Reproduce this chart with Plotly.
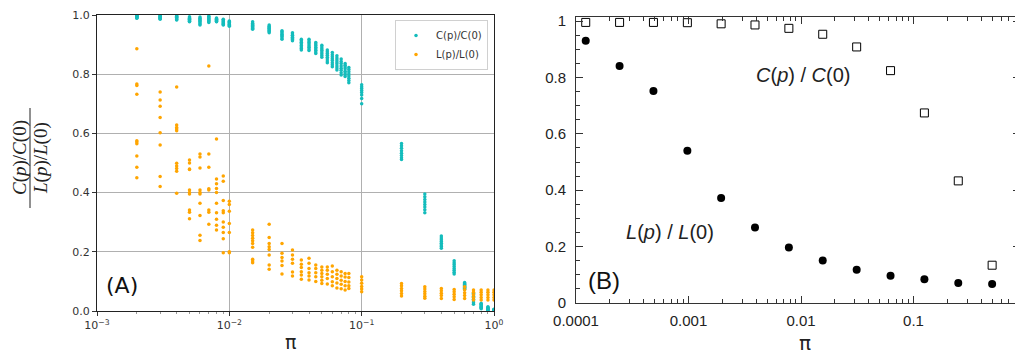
import math
import plotly.graph_objects as go

# ---------------- Panel (A) data ----------------
p_grid = [0.002, 0.003, 0.004, 0.005, 0.006, 0.007, 0.008, 0.009, 0.01,
          0.015, 0.02, 0.025, 0.03, 0.035, 0.04, 0.045, 0.05, 0.055, 0.06,
          0.065, 0.07, 0.075, 0.08, 0.1, 0.2, 0.3, 0.4, 0.5, 0.6, 0.7, 0.8,
          0.9, 1.0]

C_ratio = [
    [1.0, 0.998, 0.996, 0.995, 0.993, 0.992, 0.99, 0.989],
    [1.0, 0.997, 0.995, 0.993, 0.991, 0.99, 0.988, 0.986],
    [0.999, 0.996, 0.994, 0.992, 0.99, 0.987, 0.985, 0.983],
    [0.994, 0.991, 0.989, 0.986, 0.984, 0.981, 0.979, 0.977],
    [0.993, 0.989, 0.985, 0.981, 0.978, 0.974, 0.97, 0.966],
    [0.996, 0.993, 0.99, 0.987, 0.984, 0.981, 0.978, 0.975],
    [0.99, 0.988, 0.986, 0.984, 0.982, 0.98, 0.978, 0.977],
    [0.986, 0.983, 0.98, 0.977, 0.974, 0.971, 0.968, 0.966],
    [0.98, 0.978, 0.975, 0.973, 0.97, 0.968, 0.965, 0.962],
    [0.977, 0.972, 0.968, 0.965, 0.962, 0.958, 0.955, 0.952],
    [0.966, 0.962, 0.958, 0.955, 0.951, 0.948, 0.944, 0.94],
    [0.947, 0.943, 0.939, 0.935, 0.931, 0.927, 0.922, 0.918],
    [0.94, 0.936, 0.932, 0.929, 0.925, 0.921, 0.917, 0.913],
    [0.918, 0.913, 0.908, 0.903, 0.897, 0.892, 0.887, 0.882],
    [0.918, 0.912, 0.907, 0.902, 0.896, 0.891, 0.885, 0.88],
    [0.907, 0.902, 0.897, 0.891, 0.886, 0.881, 0.875, 0.87],
    [0.898, 0.892, 0.886, 0.881, 0.875, 0.869, 0.863, 0.857],
    [0.882, 0.876, 0.87, 0.864, 0.857, 0.851, 0.845, 0.839],
    [0.873, 0.866, 0.859, 0.852, 0.846, 0.839, 0.832, 0.825],
    [0.862, 0.855, 0.848, 0.841, 0.835, 0.828, 0.821, 0.814],
    [0.851, 0.843, 0.836, 0.828, 0.82, 0.813, 0.805, 0.797],
    [0.836, 0.83, 0.824, 0.818, 0.81, 0.804, 0.798, 0.792],
    [0.823, 0.816, 0.808, 0.801, 0.794, 0.786, 0.779, 0.771],
    [0.764, 0.758, 0.752, 0.745, 0.738, 0.73, 0.718, 0.70],
    [0.566, 0.558, 0.55, 0.541, 0.533, 0.525, 0.518, 0.512],
    [0.395, 0.386, 0.377, 0.368, 0.36, 0.351, 0.342, 0.332],
    [0.253, 0.247, 0.241, 0.235, 0.229, 0.223, 0.218, 0.212],
    [0.17, 0.163, 0.157, 0.15, 0.144, 0.138, 0.131, 0.125],
    [0.096, 0.093, 0.09, 0.087, 0.083, 0.08, 0.077, 0.073],
    [0.06, 0.055, 0.05, 0.045, 0.04, 0.034, 0.028, 0.023],
    [0.026, 0.023, 0.02, 0.017, 0.014, 0.012, 0.01, 0.008],
    [0.014, 0.012, 0.01, 0.008, 0.006, 0.005, 0.004, 0.003],
    [0.006, 0.005, 0.004, 0.003, 0.002, 0.001, 0.001, 0.0],
]

L_ratio = [
    [0.886, 0.767, 0.762, 0.732, 0.575, 0.571, 0.565, 0.524, 0.486, 0.45],
    [0.74, 0.713, 0.692, 0.654, 0.602, 0.561, 0.454, 0.421],
    [0.757, 0.628, 0.62, 0.615, 0.609, 0.499, 0.49, 0.481, 0.472, 0.398],
    [0.51, 0.5, 0.48, 0.478, 0.409, 0.4, 0.395, 0.341, 0.334, 0.312],
    [0.53, 0.52, 0.483, 0.409, 0.4, 0.395, 0.364, 0.323, 0.256, 0.238],
    [0.828, 0.53, 0.486, 0.413, 0.409, 0.341, 0.334, 0.293],
    [0.581, 0.446, 0.43, 0.414, 0.40, 0.364, 0.332, 0.31, 0.29, 0.274],
    [0.456, 0.438, 0.373, 0.339, 0.332, 0.301, 0.283, 0.265, 0.244, 0.197],
    [0.371, 0.36, 0.337, 0.296, 0.265, 0.2, 0.197],
    [0.274, 0.264, 0.255, 0.246, 0.237, 0.228, 0.215, 0.175, 0.169, 0.163],
    [0.293, 0.248, 0.228, 0.217, 0.208, 0.189, 0.155, 0.141],
    [0.228, 0.195, 0.181, 0.169, 0.154, 0.125],
    [0.206, 0.189, 0.175, 0.161, 0.132, 0.118],
    [0.172, 0.158, 0.147, 0.133, 0.122, 0.107],
    [0.178, 0.161, 0.144, 0.129, 0.118, 0.105],
    [0.155, 0.144, 0.129, 0.116, 0.1],
    [0.149, 0.138, 0.127, 0.116, 0.104, 0.093],
    [0.149, 0.138, 0.124, 0.11, 0.091],
    [0.152, 0.133, 0.116, 0.099, 0.085],
    [0.138, 0.124, 0.11, 0.095, 0.078],
    [0.133, 0.118, 0.104, 0.09, 0.075],
    [0.127, 0.115, 0.1, 0.085, 0.071],
    [0.127, 0.113, 0.098, 0.085, 0.076],
    [0.116, 0.105, 0.094, 0.083, 0.074, 0.065],
    [0.093, 0.085, 0.076, 0.068, 0.059, 0.051],
    [0.082, 0.074, 0.066, 0.058, 0.05, 0.043],
    [0.076, 0.068, 0.06, 0.052, 0.042],
    [0.073, 0.065, 0.057, 0.048, 0.039],
    [0.082, 0.072, 0.062, 0.052, 0.042],
    [0.071, 0.063, 0.055, 0.046, 0.037],
    [0.071, 0.063, 0.055, 0.046, 0.037],
    [0.071, 0.063, 0.055, 0.046, 0.037],
    [0.071, 0.063, 0.055, 0.046, 0.037],
]

A_xticks = [0.001, 0.01, 0.1, 1.0]
A_xticktext = ["10<sup>\u22123</sup>", "10<sup>\u22122</sup>", "10<sup>\u22121</sup>", "10<sup>0</sup>"]
A_yticks = [0.0, 0.2, 0.4, 0.6, 0.8, 1.0]
A_yticktext = ["0.0", "0.2", "0.4", "0.6", "0.8", "1.0"]

# ---------------- Panel (B) data ----------------
p_B = [0.000122, 0.000244, 0.000488, 0.000977, 0.00195, 0.0039, 0.0078,
       0.0156, 0.03125, 0.0625, 0.125, 0.25, 0.5, 1.0]
L_B = [0.93, 0.84, 0.752, 0.54, 0.372, 0.268, 0.197, 0.151, 0.118, 0.097,
       0.084, 0.071, 0.067, 0.064]
C_B = [0.995, 0.995, 0.995, 0.994, 0.99, 0.986, 0.974, 0.953, 0.908, 0.824,
       0.674, 0.433, 0.134, None]

B_xticks = [0.0001, 0.001, 0.01, 0.1]
B_xticktext = ["0.0001", "0.001", "0.01", "0.1"]
B_yticks = [0, 0.2, 0.4, 0.6, 0.8, 1.0]
B_yticktext = ["0", "0.2", "0.4", "0.6", "0.8", "1"]

# ---------------- build ----------------
# the page body has an 8px margin, so the figure is drawn 8px in from the
# top-left corner; positions below are given in screenshot pixels.
OFF = 8
W, H = 1023 - OFF, 354 - OFF
def px(x):
    return (x - OFF) / W
def py(y):
    return 1 - (y - OFF) / H

xs_c = [p for p, vals in zip(p_grid, C_ratio) for _ in vals]
ys_c = [v for vals in C_ratio for v in vals]
xs_l = [p for p, vals in zip(p_grid, L_ratio) for _ in vals]
ys_l = [v for vals in L_ratio for v in vals]

CYAN = "#14bcbc"
ORANGE = "#ffa500"

fig = go.Figure()
fig.add_trace(go.Scatter(x=xs_c, y=ys_c, mode="markers", name="C(p)/C(0)",
                         marker=dict(color=CYAN, size=3.5), xaxis="x", yaxis="y"))
fig.add_trace(go.Scatter(x=xs_l, y=ys_l, mode="markers", name="L(p)/L(0)",
                         marker=dict(color=ORANGE, size=3.5), xaxis="x", yaxis="y"))

fig.add_trace(go.Scatter(x=p_B, y=C_B, mode="markers", showlegend=False,
                         marker=dict(symbol="square-open", color="black", size=8,
                                     line=dict(width=1, color="black")),
                         xaxis="x2", yaxis="y2", cliponaxis=False))
fig.add_trace(go.Scatter(x=p_B, y=L_B, mode="markers", showlegend=False,
                         marker=dict(symbol="circle", color="black", size=8),
                         xaxis="x2", yaxis="y2", cliponaxis=False))

A_minor = [m * 10 ** e for e in (-3, -2, -1) for m in range(2, 10)]
B_minor = [m * 10 ** e for e in (-4, -3, -2, -1) for m in range(2, 10)]
B_yminor = [0.05, 0.1, 0.15, 0.25, 0.3, 0.35, 0.45, 0.5, 0.55, 0.65, 0.7, 0.75, 0.85, 0.9, 0.95]

fontA = dict(family="DejaVu Sans", size=11, color="#333333")
fontB = dict(family="Liberation Sans, Arial", size=15, color="#222222")

B_left, B_right = 576, 1020
B_xend = -4 + (B_right - B_left) / 112.5

fig.update_layout(
    width=W, height=H,
    margin=dict(l=0, r=0, t=0, b=0, pad=0, autoexpand=False),
    paper_bgcolor="white", plot_bgcolor="white",
    showlegend=True,
    legend=dict(x=px(488), y=py(20), xanchor="right", yanchor="top",
                bgcolor="white", bordercolor="#d0d0d0", borderwidth=1,
                font=dict(family="DejaVu Sans", size=10, color="#333333"),
                itemsizing="trace", tracegroupgap=0),
    xaxis=dict(domain=[px(97), px(494)], anchor="y", type="log", range=[-3, 0],
               automargin=False,
               tickmode="array", tickvals=A_xticks, ticktext=A_xticktext,
               ticks="outside", ticklen=4, tickcolor="#333333",
               showline=True, linecolor="#222222", linewidth=1, mirror=True,
               showgrid=True, gridcolor="#b0b0b0", gridwidth=1,
               zeroline=False, tickfont=fontA,
               minor=dict(tickmode="array", tickvals=A_minor, ticks="outside",
                          ticklen=2, tickcolor="#999999", showgrid=False)),
    yaxis=dict(domain=[py(311), py(15)], anchor="x", range=[0, 1],
               automargin=False,
               tickmode="array", tickvals=A_yticks, ticktext=A_yticktext,
               ticks="outside", ticklen=4, tickcolor="#333333",
               showline=True, linecolor="#222222", linewidth=1, mirror=True,
               showgrid=True, gridcolor="#b0b0b0", gridwidth=1,
               zeroline=False, tickfont=fontA),
    xaxis2=dict(domain=[px(B_left), px(B_right)], anchor="y2", type="log",
                range=[-4, B_xend], automargin=False,
                tickmode="array", tickvals=B_xticks, ticktext=B_xticktext,
                ticks="inside", ticklen=7, tickcolor="#333333",
                showline=True, linecolor="#333333", linewidth=1, mirror="allticks",
                showgrid=False, zeroline=False, tickfont=fontB,
                ticklabelstandoff=4,
                minor=dict(tickmode="array", tickvals=B_minor, ticks="inside",
                           ticklen=4, tickcolor="#333333", showgrid=False)),
    yaxis2=dict(domain=[py(303), py(17)], anchor="x2",
                range=[0, (303 - 17) / 282], automargin=False,
                tickmode="array", tickvals=B_yticks, ticktext=B_yticktext,
                ticks="inside", ticklen=7, tickcolor="#333333",
                showline=True, linecolor="#333333", linewidth=1, mirror="allticks",
                showgrid=False, zeroline=False, tickfont=fontB,
                ticklabelstandoff=6,
                minor=dict(tickmode="array", tickvals=B_yminor, ticks="inside",
                           ticklen=4, tickcolor="#333333", showgrid=False)),
)

serif_it = dict(family="Liberation Serif, DejaVu Serif", size=19, color="#222222")
annotations = [
    # panel A y-label as a stacked fraction
    dict(x=px(20), y=py(158), text="<i>C</i>(<i>p</i>)/<i>C</i>(0)", textangle=-90,
         font=serif_it),
    dict(x=px(41), y=py(158), text="<i>L</i>(<i>p</i>)/<i>L</i>(0)", textangle=-90,
         font=serif_it),
    dict(x=px(290), y=py(342), text="\u03c0",
         font=dict(family="DejaVu Sans", size=19, color="#222222")),
    dict(x=px(122), y=py(285), text="(A)",
         font=dict(family="DejaVu Sans", size=22, color="#111111")),
    # panel B
    dict(x=px(803), y=py(75), text="<i>C</i>(<i>p</i>) / <i>C</i>(0)",
         font=dict(family="Liberation Sans, Arial", size=20, color="#222222")),
    dict(x=px(670), y=py(232), text="<i>L</i>(<i>p</i>) / <i>L</i>(0)",
         font=dict(family="Liberation Sans, Arial", size=20, color="#222222")),
    dict(x=px(604), y=py(280), text="(B)",
         font=dict(family="Liberation Sans, Arial", size=24, color="#111111")),
    dict(x=px(805), y=py(343), text="\u03c0",
         font=dict(family="DejaVu Sans", size=20, color="#222222")),
]
for a in annotations:
    a.update(xref="paper", yref="paper", showarrow=False, xanchor="center", yanchor="middle")
fig.update_layout(annotations=annotations)

fig.add_shape(type="line", xref="paper", yref="paper",
              x0=px(30), x1=px(30), y0=py(108), y1=py(208),
              line=dict(color="#222222", width=1))

fig.write_html("out.html")
